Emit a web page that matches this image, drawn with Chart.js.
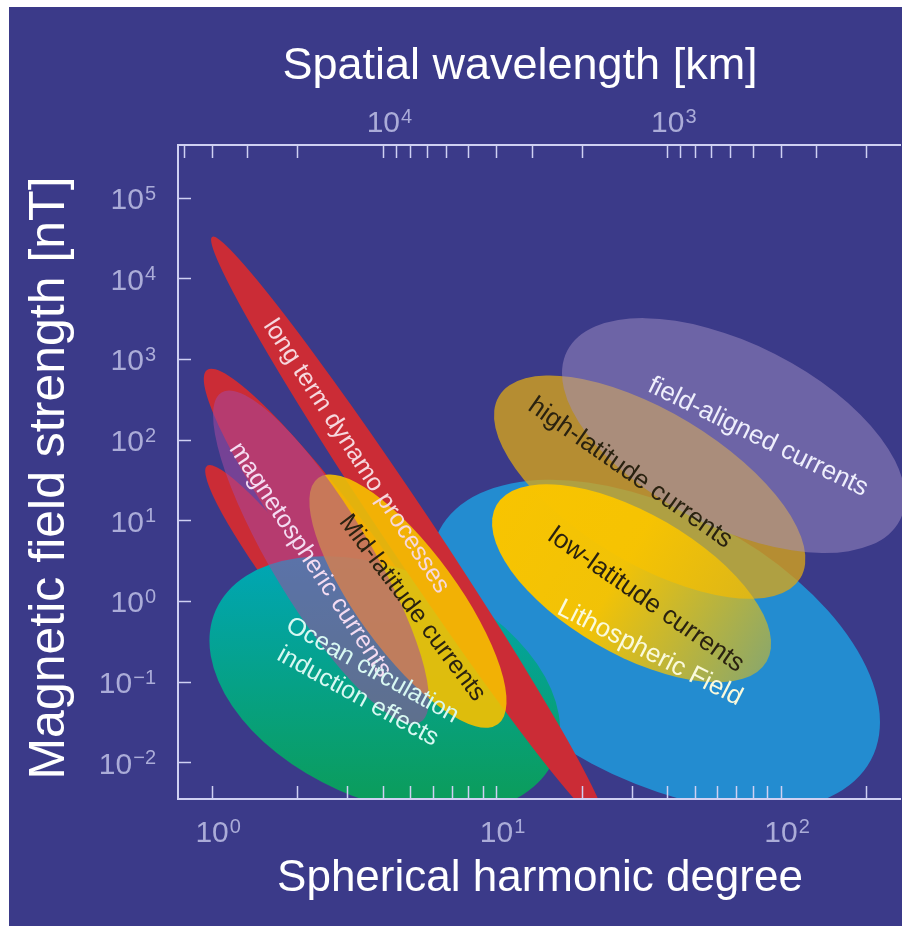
<!DOCTYPE html>
<html>
<head>
<meta charset="utf-8">
<title>Magnetic field sources by spherical harmonic degree</title>
<script src="https://cdn.jsdelivr.net/npm/chart.js@4.4.1/dist/chart.umd.min.js"></script>
<style>
  html, body { margin: 0; padding: 0; background: #ffffff; }
  #wrap { width: 902px; height: 926px; }
</style>
</head>
<body>
<div id="wrap"><canvas id="chart" width="902" height="926"></canvas></div>
<script>
// ---- Source regions: each is an ellipse in (degree, field strength) space,
// given by the two ends of its long axis and the ratio of short to long axis.
const regionNames = [
  'Lithospheric Field',
  'secondary band A',
  'secondary band B',
  'Ocean circulation / induction effects',
  'long term dynamo processes',
  'Mid-latitude currents',
  'magnetospheric currents',
  'high-latitude currents',
  'low-latitude currents',
  'field-aligned currents'
];
const degreeStart = [6.3, 0.96, 0.96, 1.03, 1.0, 2.36, 1.08, 10.2, 10.0, 17.7];
const fieldStart  = [7.7, 740, 48, 0.78, 33000, 34, 390, 350, 15.7, 1270];
const degreeEnd   = [207, 8.75, 4.6, 15.9, 24, 10.1, 5.4, 117, 89, 262];
const fieldEnd    = [0.0108, 0.0166, 0.034, 0.0108, 0.0017, 0.030, 0.032, 1.95, 0.18, 10.2];
const widthRatio  = [0.55, 0.16, 0.15, 0.62, 0.068, 0.33, 0.255, 0.43, 0.45, 0.49];

// ---- Region captions (anchor in degree / nT, rotation in degrees)
const labelTexts  = [
  'long term dynamo processes',
  'magnetospheric currents',
  'Mid-latitude currents',
  'Ocean circulation\ninduction effects',
  'field-aligned currents',
  'high-latitude currents',
  'low-latitude currents',
  'Lithospheric Field'
];
const labelDegree = [3.21, 2.21, 5.05, 3.45, 83, 29.5, 33.5, 34.6];
const labelField  = [63, 3.26, 0.83, 0.096, 109, 39, 1.04, 0.229];
const labelAngle  = [57, 56.7, 53, 29, 26, 35, 35, 27];

// ---- Axes
const degreeRange = [0.759, 262];
const fieldRange = [0.00356, 455000];
const degreeTicks = [1, 2, 3, 4, 5, 6, 7, 8, 9, 10, 20, 30, 40, 50, 60, 70, 80, 90, 100, 200];
const degreeLabelExps = [0, 1, 2];
const fieldLabelExps = [-2, -1, 0, 1, 2, 3, 4, 5];
const wavelengthTicks = [50000, 40000, 30000, 20000, 10000, 9000, 8000, 7000, 6000, 5000, 4000, 3000, 2000,
                         1000, 900, 800, 700, 600, 500, 400, 300, 200];
const wavelengthLabelExps = [4, 3];
const EARTH_CIRCUMFERENCE_KM = 40000; // wavelength ~ circumference / degree

// ---- Styling
const BG = 'rgb(59,58,137)';
const AXIS_COLOR = '#cfd0f2';
const TICK_LABEL_COLOR = '#abacd8';
const FONT = '"Liberation Sans", Arial, Helvetica, sans-serif';
const RED = 'rgb(203,44,54)';

const regionFills = [
  () => 'rgb(35,140,208)',
  () => RED,
  () => RED,
  (ctx, g) => {
    const h = Math.sqrt((g.a * Math.sin(g.angle)) ** 2 + (g.b * Math.cos(g.angle)) ** 2);
    const gr = ctx.createLinearGradient(0, g.cy - h, 0, g.cy + h);
    gr.addColorStop(0, '#00a6b6');
    gr.addColorStop(1, '#0c9c56');
    return gr;
  },
  () => RED,
  () => 'rgba(246,192,0,0.9)',
  () => 'rgba(165,72,158,0.55)',
  () => 'rgba(215,165,25,0.78)',
  (ctx, g) => {
    const gr = ctx.createLinearGradient(g.x1, g.y1, g.x2, g.y2);
    gr.addColorStop(0, 'rgba(248,196,0,1)');
    gr.addColorStop(0.45, 'rgba(248,196,0,0.97)');
    gr.addColorStop(1, 'rgba(248,196,0,0.5)');
    return gr;
  },
  () => 'rgba(160,142,195,0.5)'
];
const labelColors = ['#f6d8de', '#f4dcf2', '#2a2210', '#d8f8f2', '#eeeefc', '#2a2210', '#2a2210', '#fafadc'];
const labelSizes = [25, 25, 25, 25, 26, 26, 26, 26];

function regionGeometry(chart, i) {
  const xs = chart.scales.x, ys = chart.scales.y;
  const x1 = xs.getPixelForValue(degreeStart[i]), y1 = ys.getPixelForValue(fieldStart[i]);
  const x2 = xs.getPixelForValue(degreeEnd[i]), y2 = ys.getPixelForValue(fieldEnd[i]);
  const a = Math.hypot(x2 - x1, y2 - y1) / 2;
  return { x1, y1, x2, y2, cx: (x1 + x2) / 2, cy: (y1 + y2) / 2, a, b: a * widthRatio[i],
           angle: Math.atan2(y2 - y1, x2 - x1) };
}

// "10" with a raised exponent; anchor 'center' centres the 10 on x, 'right' ends the exponent at x
function drawPower(ctx, exp, x, y, anchor) {
  const base = '10';
  const sup = exp < 0 ? '\u2212' + (-exp) : String(exp);
  ctx.font = '30px ' + FONT;
  const bw = ctx.measureText(base).width;
  ctx.font = '20px ' + FONT;
  const sw = ctx.measureText(sup).width;
  const bx = anchor === 'right' ? x - sw - 1 - bw : x - bw / 2;
  ctx.textAlign = 'left';
  ctx.textBaseline = 'alphabetic';
  ctx.fillStyle = TICK_LABEL_COLOR;
  ctx.font = '30px ' + FONT;
  ctx.fillText(base, bx, y);
  ctx.font = '20px ' + FONT;
  ctx.fillText(sup, bx + bw + 1, y - 9.5);
}

const regionsPlugin = {
  id: 'regions',
  beforeDraw(chart) {
    const { ctx, chartArea: ca } = chart;
    ctx.save();
    ctx.fillStyle = '#ffffff';
    ctx.fillRect(0, 0, chart.width, chart.height);
    ctx.fillStyle = BG;
    ctx.fillRect(9, 7, chart.width - 9, chart.height - 7);

    ctx.beginPath();
    ctx.rect(ca.left, ca.top, ca.right - ca.left + 2, ca.bottom - ca.top);
    ctx.clip();
    regionNames.forEach((_, i) => {
      const g = regionGeometry(chart, i);
      ctx.beginPath();
      ctx.ellipse(g.cx, g.cy, g.a, g.b, g.angle, 0, Math.PI * 2);
      ctx.fillStyle = regionFills[i](ctx, g);
      ctx.fill();
    });

    const xs = chart.scales.x, ys = chart.scales.y;
    ctx.textAlign = 'center';
    ctx.textBaseline = 'middle';
    labelTexts.forEach((text, i) => {
      ctx.save();
      ctx.translate(xs.getPixelForValue(labelDegree[i]), ys.getPixelForValue(labelField[i]));
      ctx.rotate(labelAngle[i] * Math.PI / 180);
      ctx.font = labelSizes[i] + 'px ' + FONT;
      ctx.fillStyle = labelColors[i];
      const lines = text.split('\n');
      lines.forEach((ln, k) => ctx.fillText(ln, 0, (k - (lines.length - 1) / 2) * 30));
      ctx.restore();
    });
    ctx.restore();
  },
  afterDraw(chart) {
    const { ctx } = chart;
    const xs = chart.scales.x, x2 = chart.scales.x2, ys = chart.scales.y;
    ctx.save();
    fieldLabelExps.forEach(e => drawPower(ctx, e, 156, ys.getPixelForValue(Math.pow(10, e)) + 11, 'right'));
    degreeLabelExps.forEach(e => drawPower(ctx, e, xs.getPixelForValue(Math.pow(10, e)), 842, 'center'));
    wavelengthLabelExps.forEach(e =>
      drawPower(ctx, e, x2.getPixelForValue(EARTH_CIRCUMFERENCE_KM / Math.pow(10, e)), 132, 'center'));

    ctx.fillStyle = '#ffffff';
    ctx.textAlign = 'center';
    ctx.textBaseline = 'alphabetic';
    ctx.font = '45px ' + FONT;
    ctx.fillText('Spatial wavelength [km]', 520, 79);
    ctx.font = '44px ' + FONT;
    ctx.fillText('Spherical harmonic degree', 540, 891);
    ctx.save();
    ctx.translate(64, 478);
    ctx.rotate(-Math.PI / 2);
    ctx.font = '50px ' + FONT;
    ctx.fillText('Magnetic field strength [nT]', 0, 0);
    ctx.restore();
    ctx.restore();
  }
};

const inwardGrid = () => ({
  display: true, drawOnChartArea: false, drawTicks: true,
  tickLength: -13, tickColor: AXIS_COLOR, tickWidth: 1.5
});
const axisBorder = () => ({ display: true, color: AXIS_COLOR, width: 2 });

new Chart(document.getElementById('chart'), {
  type: 'scatter',
  data: { datasets: [] },
  options: {
    responsive: false,
    animation: false,
    events: [],
    layout: { padding: { left: 0, top: 0, right: 2, bottom: 0 } },
    plugins: { legend: { display: false }, tooltip: { enabled: false } },
    scales: {
      x: {
        type: 'logarithmic', position: 'bottom',
        min: degreeRange[0], max: degreeRange[1],
        afterBuildTicks: s => { s.ticks = degreeTicks.map(v => ({ value: v })); },
        afterFit: s => { s.height = 127; },
        ticks: { display: false },
        grid: inwardGrid(), border: axisBorder()
      },
      x2: {
        type: 'logarithmic', position: 'top', axis: 'x',
        min: degreeRange[0], max: degreeRange[1],
        afterBuildTicks: s => { s.ticks = wavelengthTicks.map(l => ({ value: EARTH_CIRCUMFERENCE_KM / l })); },
        afterFit: s => { s.height = 145; },
        ticks: { display: false },
        grid: inwardGrid(), border: axisBorder()
      },
      y: {
        type: 'logarithmic', position: 'left',
        min: fieldRange[0], max: fieldRange[1],
        afterBuildTicks: s => { s.ticks = fieldLabelExps.map(e => ({ value: Math.pow(10, e) })); },
        afterFit: s => { s.width = 178; },
        ticks: { display: false },
        grid: inwardGrid(), border: axisBorder()
      }
    }
  },
  plugins: [regionsPlugin]
});
</script>
</body>
</html>
